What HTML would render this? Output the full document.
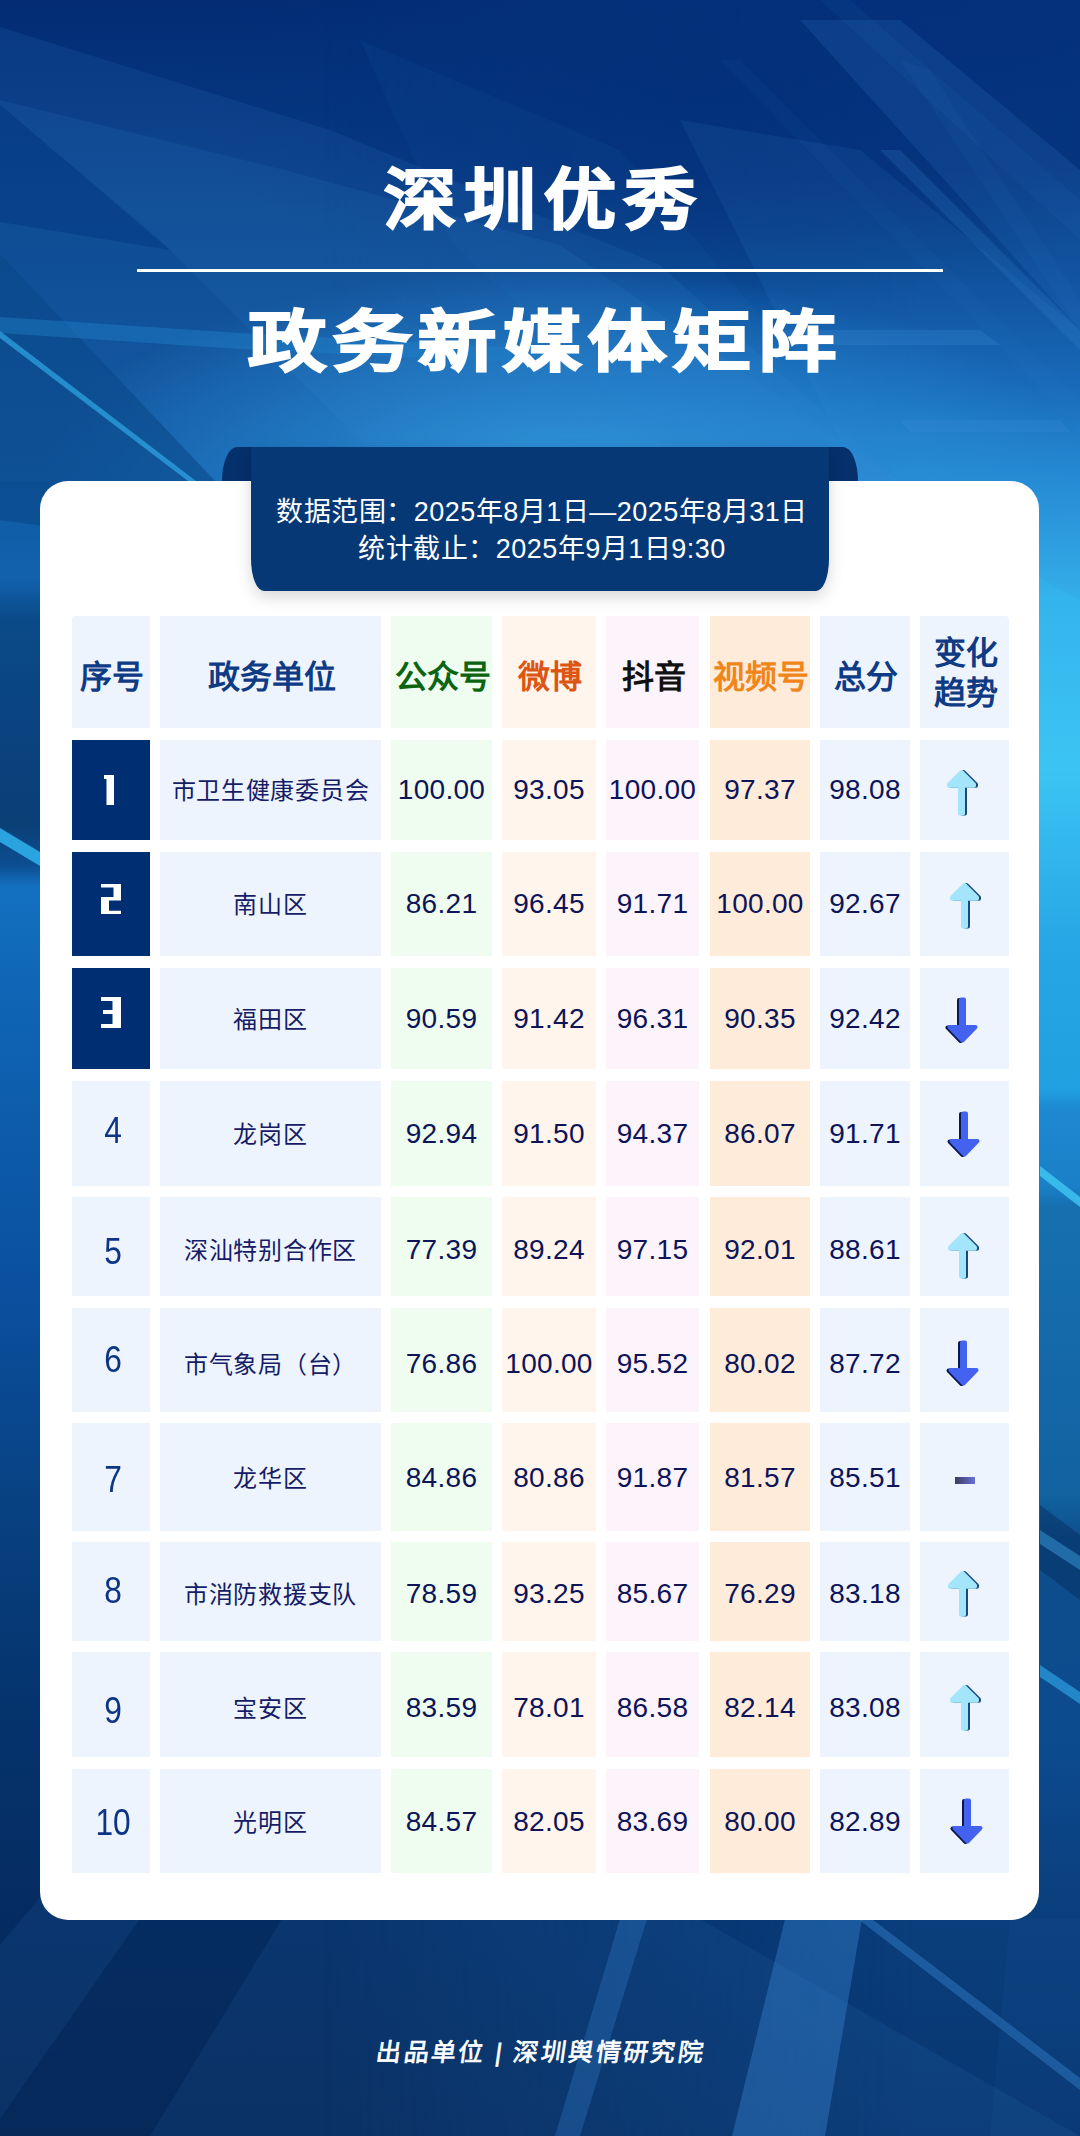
<!DOCTYPE html>
<html lang="zh-CN"><head><meta charset="utf-8">
<style>
*{margin:0;padding:0;box-sizing:border-box}
html,body{width:1080px;height:2136px;overflow:hidden;background:#0a3a80}
body{position:relative;font-family:"Liberation Sans",sans-serif}
.abs{position:absolute}
.c{position:absolute;display:flex;align-items:center;justify-content:center;text-align:center}
.hd{font-family:"Liberation Serif",serif;font-weight:700;font-size:32px;line-height:40px;color:#0f3a84;padding-top:9px;padding-left:2px}
.nm{font-size:24px;color:#161c66;letter-spacing:0.7px;padding-bottom:5px}
.num{font-size:28px;color:#0d1458;letter-spacing:0.3px;padding-bottom:2px}
.rk{font-size:36px;color:#0d3583;font-weight:300;padding-bottom:3px}
</style></head><body>
<svg class="abs" style="left:0;top:0" width="1080" height="2136" viewBox="0 0 1080 2136">
<defs>
<linearGradient id="bgL" x1="0" y1="0" x2="0" y2="2136" gradientUnits="userSpaceOnUse">
<stop offset="0" stop-color="#032c74"/>
<stop offset="0.05" stop-color="#05357e"/>
<stop offset="0.12" stop-color="#09458c"/>
<stop offset="0.19" stop-color="#0d4f98"/>
<stop offset="0.225" stop-color="#0f58a0"/>
<stop offset="0.27" stop-color="#1262ae"/>
<stop offset="0.29" stop-color="#0b4a88"/>
<stop offset="0.33" stop-color="#0a4482"/>
<stop offset="0.385" stop-color="#0a3f76"/>
<stop offset="0.405" stop-color="#0c4e92"/>
<stop offset="0.415" stop-color="#1370c0"/>
<stop offset="0.47" stop-color="#0f64b4"/>
<stop offset="0.60" stop-color="#0b50a0"/>
<stop offset="0.70" stop-color="#084283"/>
<stop offset="0.80" stop-color="#05336c"/>
<stop offset="0.90" stop-color="#052c62"/>
<stop offset="1" stop-color="#06295a"/>
</linearGradient>
<linearGradient id="bgR" x1="0" y1="0" x2="0" y2="2136" gradientUnits="userSpaceOnUse">
<stop offset="0" stop-color="#05307c"/>
<stop offset="0.08" stop-color="#06367f"/>
<stop offset="0.13" stop-color="#0b4a95"/>
<stop offset="0.18" stop-color="#1466b5"/>
<stop offset="0.22" stop-color="#2288d2"/>
<stop offset="0.28" stop-color="#34b4ec"/>
<stop offset="0.36" stop-color="#3cc4f4"/>
<stop offset="0.445" stop-color="#26a6e4"/>
<stop offset="0.51" stop-color="#20a0e0"/>
<stop offset="0.52" stop-color="#1e88d0"/>
<stop offset="0.555" stop-color="#1a80c8"/>
<stop offset="0.565" stop-color="#1670b0"/>
<stop offset="0.64" stop-color="#1468a8"/>
<stop offset="0.70" stop-color="#1262a0"/>
<stop offset="0.72" stop-color="#0e4e8c"/>
<stop offset="0.82" stop-color="#0c4a8e"/>
<stop offset="0.90" stop-color="#0a3e7c"/>
<stop offset="1" stop-color="#083670"/>
</linearGradient>
<linearGradient id="mx" x1="0" y1="0" x2="1080" y2="0" gradientUnits="userSpaceOnUse">
<stop offset="0.3" stop-color="#fff" stop-opacity="0"/>
<stop offset="0.85" stop-color="#fff" stop-opacity="1"/>
</linearGradient>
<mask id="mR"><rect width="1080" height="2136" fill="url(#mx)"/></mask>
<radialGradient id="gC" cx="0" cy="0" r="1" gradientUnits="userSpaceOnUse" gradientTransform="translate(560 470) scale(520 200)">
<stop offset="0" stop-color="#2c98dc" stop-opacity="0.95"/>
<stop offset="0.6" stop-color="#2a90d8" stop-opacity="0.45"/>
<stop offset="1" stop-color="#2a90d8" stop-opacity="0"/>
</radialGradient>
<radialGradient id="gT" cx="0" cy="0" r="1" gradientUnits="userSpaceOnUse" gradientTransform="translate(700 80) scale(520 230)">
<stop offset="0" stop-color="#04307a" stop-opacity="0.9"/>
<stop offset="1" stop-color="#04307a" stop-opacity="0"/>
</radialGradient>
</defs>
<rect width="1080" height="2136" fill="url(#bgL)"/>
<rect width="1080" height="2136" fill="url(#bgR)" mask="url(#mR)"/>
<rect width="1080" height="700" fill="url(#gT)"/>
<rect width="1080" height="700" fill="url(#gC)"/>
<g fill="#3a8ad8">
<polygon points="0,27 330,130 660,265 900,481 0,481" opacity="0.12"/>
<polygon points="0,100 285,170 560,245 900,481 400,481 160,240 0,105" opacity="0.12"/>
<polygon points="0,105 160,240 400,481 0,481" opacity="0.04"/>
<polygon points="360,40 620,150 900,480 700,480 450,240" opacity="0.06"/>
</g>
<g fill="#4aa0e8">
<polygon points="820,0 850,0 1080,200 1080,240" opacity="0.06"/>
<polygon points="900,60 930,70 1080,300 1080,330" opacity="0.05"/>
<polygon points="720,60 740,60 1080,400 1080,430" opacity="0.04"/>
</g>
<g fill="#3a8ad8">
<polygon points="800,20 900,20 1080,170 1080,330" opacity="0.16"/>
<polygon points="680,120 860,150 1080,330 1080,600 860,481" opacity="0.12"/>
<polygon points="880,150 900,150 1080,330 1080,350" opacity="0.2"/>
<polygon points="780,330 980,330 1000,345 800,345" opacity="0.25"/>
<polygon points="900,420 1060,420 1070,432 910,432" opacity="0.25"/>
</g>
<polygon points="0,105 170,250 0,222" fill="#053a85" opacity="0.55"/>
<polygon points="0,254 290,560 0,520" fill="#0a4888" opacity="0.6"/>
<polygon points="0,317 240,333 560,350 560,364 240,349 0,333" fill="#2080c8" opacity="0.45"/>
<polygon points="0,331 196,481 188,481 0,338" fill="#30a8e6" opacity="0.7"/>
<polygon points="0,828 40,852 40,866 0,842" fill="#30b4ee" opacity="0.85"/>
<polygon points="1040,1665 1080,1692 1080,1704 1040,1677" fill="#2a9ade" opacity="0.75"/>
<polygon points="1040,1166 1080,1197 1080,1207 1040,1176" fill="#40c8f4" opacity="0.8"/>
<polygon points="1040,1505 1080,1535 1080,1600 1040,1570" fill="#052a5a" opacity="0.45"/>
<polygon points="1040,1530 1080,1556 1080,1570 1040,1544" fill="#3a9ad8" opacity="0.5"/>
<g fill="#3a8ad8">
<polygon points="282,1919 700,1919 1080,2136 150,2136" opacity="0.10"/>
<polygon points="0,1945 139,1780 237,1780 -12,2136 -20,2136" opacity="0.10"/>
<polygon points="620,1919 647,1919 580,2136 555,2136" opacity="0.28"/>
<polygon points="785,1919 862,1919 825,2136 732,2136" opacity="0.38"/>
<polygon points="858,1919 872,1919 1080,2078 1080,2090" opacity="0.4"/>
<polygon points="1010,1919 1080,1919 1080,2136 990,2136" opacity="0.06"/>
</g>
</svg>
<div class="abs" style="left:0;top:155px;width:1080px;text-align:center;color:#fff;font-weight:700;font-size:72px;line-height:90px;letter-spacing:8px;padding-left:8px;-webkit-text-stroke:2px #fff;transform:scaleY(0.92)">深圳优秀</div>
<div class="abs" style="left:137px;top:269px;width:806px;height:3px;background:#fff"></div>
<div class="abs" style="left:0;top:297px;width:1080px;text-align:center;color:#fff;font-weight:700;font-size:78px;line-height:90px;letter-spacing:7px;padding-left:10px;-webkit-text-stroke:2.5px #fff;transform:scaleY(0.85)">政务新媒体矩阵</div>
<div class="abs" style="left:40px;top:481px;width:999px;height:1439px;background:#fff;border-radius:28px"></div>
<div class="abs" style="left:222px;top:447px;width:636px;height:34px;background:#05306c;border-radius:15px 15px 0 0/34px 34px 0 0"></div>
<div class="abs" style="left:251px;top:447px;width:578px;height:144px;background:#063876;border-radius:0 0 13px 13px/0 0 32px 32px;box-shadow:0 6px 16px rgba(0,0,0,0.16)"></div>
<div class="abs" style="left:253px;top:494px;width:578px;text-align:center;color:#fff;font-size:27px;line-height:37px;letter-spacing:0.5px">数据范围：2025年8月1日—2025年8月31日<br>统计截止：2025年9月1日9:30</div>
<div class="c hd" style="left:72px;top:616px;width:78px;height:112px;background:#edf4fe;color:#0f3a84;border-top-left-radius:4px;">序号</div>
<div class="c hd" style="left:160px;top:616px;width:221px;height:112px;background:#edf4fe;color:#0f3a84;">政务单位</div>
<div class="c hd" style="left:391px;top:616px;width:101px;height:112px;background:#effdf0;color:#0c6410;">公众号</div>
<div class="c hd" style="left:502px;top:616px;width:94px;height:112px;background:#fff5ec;color:#dc5512;">微博</div>
<div class="c hd" style="left:606px;top:616px;width:93px;height:112px;background:#fdf3fb;color:#111111;">抖音</div>
<div class="c hd" style="left:710px;top:616px;width:100px;height:112px;background:#ffebda;color:#f0861a;">视频号</div>
<div class="c hd" style="left:820px;top:616px;width:90px;height:112px;background:#edf4fe;color:#0f3a84;">总分</div>
<div class="c hd" style="left:920px;top:616px;width:89px;height:112px;background:#edf4fe;color:#0f3a84;border-top-right-radius:4px;padding-top:2px;">变化<br>趋势</div>
<div class="abs" style="left:72px;top:740px;width:78px;height:100px;background:#002e73"></div>
<div class="abs" style="left:160px;top:740px;width:221px;height:100px;background:#edf4fe"></div>
<div class="abs" style="left:391px;top:740px;width:101px;height:100px;background:#effdf0"></div>
<div class="abs" style="left:502px;top:740px;width:94px;height:100px;background:#fff5ec"></div>
<div class="abs" style="left:606px;top:740px;width:93px;height:100px;background:#fdf3fb"></div>
<div class="abs" style="left:710px;top:740px;width:100px;height:100px;background:#ffebda"></div>
<div class="abs" style="left:820px;top:740px;width:90px;height:100px;background:#edf4fe"></div>
<div class="abs" style="left:920px;top:740px;width:89px;height:100px;background:#edf4fe"></div>
<div class="c nm" style="left:160px;top:741px;width:221px;height:100px">市卫生健康委员会</div>
<div class="c num" style="left:391px;top:741px;width:101px;height:100px">100.00</div>
<div class="c num" style="left:502px;top:741px;width:94px;height:100px">93.05</div>
<div class="c num" style="left:606px;top:741px;width:93px;height:100px">100.00</div>
<div class="c num" style="left:710px;top:741px;width:100px;height:100px">97.37</div>
<div class="c num" style="left:820px;top:741px;width:90px;height:100px">98.08</div>
<svg class="abs" style="left:943px;top:766px" width="42" height="54" viewBox="-4 -4 42 54"><path transform="translate(2,0)" d="M14.5 2 L27 14.5 L27 15.8 L16 15.8 L16 43.5 L13 43.5 L13 15.8 L2 15.8 L2 14.5 Z" fill="#1a4a7c" stroke="#1a4a7c" stroke-width="4" stroke-linejoin="round"/><path d="M14.5 2 L27 14.5 L27 15.8 L16 15.8 L16 43.5 L13 43.5 L13 15.8 L2 15.8 L2 14.5 Z" fill="#a3e6fc" stroke="#a3e6fc" stroke-width="4" stroke-linejoin="round"/></svg>
<div class="abs" style="left:72px;top:852px;width:78px;height:104px;background:#002e73"></div>
<div class="abs" style="left:160px;top:852px;width:221px;height:104px;background:#edf4fe"></div>
<div class="abs" style="left:391px;top:852px;width:101px;height:104px;background:#effdf0"></div>
<div class="abs" style="left:502px;top:852px;width:94px;height:104px;background:#fff5ec"></div>
<div class="abs" style="left:606px;top:852px;width:93px;height:104px;background:#fdf3fb"></div>
<div class="abs" style="left:710px;top:852px;width:100px;height:104px;background:#ffebda"></div>
<div class="abs" style="left:820px;top:852px;width:90px;height:104px;background:#edf4fe"></div>
<div class="abs" style="left:920px;top:852px;width:89px;height:104px;background:#edf4fe"></div>
<div class="c nm" style="left:160px;top:853px;width:221px;height:104px">南山区</div>
<div class="c num" style="left:391px;top:853px;width:101px;height:104px">86.21</div>
<div class="c num" style="left:502px;top:853px;width:94px;height:104px">96.45</div>
<div class="c num" style="left:606px;top:853px;width:93px;height:104px">91.71</div>
<div class="c num" style="left:710px;top:853px;width:100px;height:104px">100.00</div>
<div class="c num" style="left:820px;top:853px;width:90px;height:104px">92.67</div>
<svg class="abs" style="left:946px;top:879px" width="42" height="54" viewBox="-4 -4 42 54"><path transform="translate(2,0)" d="M14.5 2 L27 14.5 L27 15.8 L16 15.8 L16 43.5 L13 43.5 L13 15.8 L2 15.8 L2 14.5 Z" fill="#1a4a7c" stroke="#1a4a7c" stroke-width="4" stroke-linejoin="round"/><path d="M14.5 2 L27 14.5 L27 15.8 L16 15.8 L16 43.5 L13 43.5 L13 15.8 L2 15.8 L2 14.5 Z" fill="#a3e6fc" stroke="#a3e6fc" stroke-width="4" stroke-linejoin="round"/></svg>
<div class="abs" style="left:72px;top:968px;width:78px;height:101px;background:#002e73"></div>
<div class="abs" style="left:160px;top:968px;width:221px;height:101px;background:#edf4fe"></div>
<div class="abs" style="left:391px;top:968px;width:101px;height:101px;background:#effdf0"></div>
<div class="abs" style="left:502px;top:968px;width:94px;height:101px;background:#fff5ec"></div>
<div class="abs" style="left:606px;top:968px;width:93px;height:101px;background:#fdf3fb"></div>
<div class="abs" style="left:710px;top:968px;width:100px;height:101px;background:#ffebda"></div>
<div class="abs" style="left:820px;top:968px;width:90px;height:101px;background:#edf4fe"></div>
<div class="abs" style="left:920px;top:968px;width:89px;height:101px;background:#edf4fe"></div>
<div class="c nm" style="left:160px;top:969px;width:221px;height:101px">福田区</div>
<div class="c num" style="left:391px;top:969px;width:101px;height:101px">90.59</div>
<div class="c num" style="left:502px;top:969px;width:94px;height:101px">91.42</div>
<div class="c num" style="left:606px;top:969px;width:93px;height:101px">96.31</div>
<div class="c num" style="left:710px;top:969px;width:100px;height:101px">90.35</div>
<div class="c num" style="left:820px;top:969px;width:90px;height:101px">92.42</div>
<svg class="abs" style="left:942px;top:993px" width="42" height="54" viewBox="-4 -4 42 54"><path transform="translate(-2,0.5)" d="M15 2.5 L18 2.5 L18 30 L29.5 30 L16.5 43.5 L3.5 30 L15 30 Z" fill="#0a1850" stroke="#0a1850" stroke-width="4" stroke-linejoin="round"/><path d="M15 2.5 L18 2.5 L18 30 L29.5 30 L16.5 43.5 L3.5 30 L15 30 Z" fill="#4362f0" stroke="#4362f0" stroke-width="4" stroke-linejoin="round"/></svg>
<div class="abs" style="left:72px;top:1081px;width:78px;height:105px;background:#edf4fe"></div>
<div class="abs" style="left:160px;top:1081px;width:221px;height:105px;background:#edf4fe"></div>
<div class="abs" style="left:391px;top:1081px;width:101px;height:105px;background:#effdf0"></div>
<div class="abs" style="left:502px;top:1081px;width:94px;height:105px;background:#fff5ec"></div>
<div class="abs" style="left:606px;top:1081px;width:93px;height:105px;background:#fdf3fb"></div>
<div class="abs" style="left:710px;top:1081px;width:100px;height:105px;background:#ffebda"></div>
<div class="abs" style="left:820px;top:1081px;width:90px;height:105px;background:#edf4fe"></div>
<div class="abs" style="left:920px;top:1081px;width:89px;height:105px;background:#edf4fe"></div>
<div class="c rk" style="left:74px;top:1080px;width:78px;height:105px"><span style="display:inline-block;transform:scaleX(0.88)">4</span></div>
<div class="c nm" style="left:160px;top:1082px;width:221px;height:105px">龙岗区</div>
<div class="c num" style="left:391px;top:1082px;width:101px;height:105px">92.94</div>
<div class="c num" style="left:502px;top:1082px;width:94px;height:105px">91.50</div>
<div class="c num" style="left:606px;top:1082px;width:93px;height:105px">94.37</div>
<div class="c num" style="left:710px;top:1082px;width:100px;height:105px">86.07</div>
<div class="c num" style="left:820px;top:1082px;width:90px;height:105px">91.71</div>
<svg class="abs" style="left:944px;top:1107px" width="42" height="54" viewBox="-4 -4 42 54"><path transform="translate(-2,0.5)" d="M15 2.5 L18 2.5 L18 30 L29.5 30 L16.5 43.5 L3.5 30 L15 30 Z" fill="#0a1850" stroke="#0a1850" stroke-width="4" stroke-linejoin="round"/><path d="M15 2.5 L18 2.5 L18 30 L29.5 30 L16.5 43.5 L3.5 30 L15 30 Z" fill="#4362f0" stroke="#4362f0" stroke-width="4" stroke-linejoin="round"/></svg>
<div class="abs" style="left:72px;top:1197px;width:78px;height:99px;background:#edf4fe"></div>
<div class="abs" style="left:160px;top:1197px;width:221px;height:99px;background:#edf4fe"></div>
<div class="abs" style="left:391px;top:1197px;width:101px;height:99px;background:#effdf0"></div>
<div class="abs" style="left:502px;top:1197px;width:94px;height:99px;background:#fff5ec"></div>
<div class="abs" style="left:606px;top:1197px;width:93px;height:99px;background:#fdf3fb"></div>
<div class="abs" style="left:710px;top:1197px;width:100px;height:99px;background:#ffebda"></div>
<div class="abs" style="left:820px;top:1197px;width:90px;height:99px;background:#edf4fe"></div>
<div class="abs" style="left:920px;top:1197px;width:89px;height:99px;background:#edf4fe"></div>
<div class="c rk" style="left:74px;top:1204px;width:78px;height:99px"><span style="display:inline-block;transform:scaleX(0.88)">5</span></div>
<div class="c nm" style="left:160px;top:1201px;width:221px;height:99px">深汕特别合作区</div>
<div class="c num" style="left:391px;top:1201px;width:101px;height:99px">77.39</div>
<div class="c num" style="left:502px;top:1201px;width:94px;height:99px">89.24</div>
<div class="c num" style="left:606px;top:1201px;width:93px;height:99px">97.15</div>
<div class="c num" style="left:710px;top:1201px;width:100px;height:99px">92.01</div>
<div class="c num" style="left:820px;top:1201px;width:90px;height:99px">88.61</div>
<svg class="abs" style="left:944px;top:1229px" width="42" height="54" viewBox="-4 -4 42 54"><path transform="translate(2,0)" d="M14.5 2 L27 14.5 L27 15.8 L16 15.8 L16 43.5 L13 43.5 L13 15.8 L2 15.8 L2 14.5 Z" fill="#1a4a7c" stroke="#1a4a7c" stroke-width="4" stroke-linejoin="round"/><path d="M14.5 2 L27 14.5 L27 15.8 L16 15.8 L16 43.5 L13 43.5 L13 15.8 L2 15.8 L2 14.5 Z" fill="#a3e6fc" stroke="#a3e6fc" stroke-width="4" stroke-linejoin="round"/></svg>
<div class="abs" style="left:72px;top:1308px;width:78px;height:104px;background:#edf4fe"></div>
<div class="abs" style="left:160px;top:1308px;width:221px;height:104px;background:#edf4fe"></div>
<div class="abs" style="left:391px;top:1308px;width:101px;height:104px;background:#effdf0"></div>
<div class="abs" style="left:502px;top:1308px;width:94px;height:104px;background:#fff5ec"></div>
<div class="abs" style="left:606px;top:1308px;width:93px;height:104px;background:#fdf3fb"></div>
<div class="abs" style="left:710px;top:1308px;width:100px;height:104px;background:#ffebda"></div>
<div class="abs" style="left:820px;top:1308px;width:90px;height:104px;background:#edf4fe"></div>
<div class="abs" style="left:920px;top:1308px;width:89px;height:104px;background:#edf4fe"></div>
<div class="c rk" style="left:74px;top:1309px;width:78px;height:104px"><span style="display:inline-block;transform:scaleX(0.88)">6</span></div>
<div class="c nm" style="left:160px;top:1313px;width:221px;height:104px">市气象局（台）</div>
<div class="c num" style="left:391px;top:1313px;width:101px;height:104px">76.86</div>
<div class="c num" style="left:502px;top:1313px;width:94px;height:104px">100.00</div>
<div class="c num" style="left:606px;top:1313px;width:93px;height:104px">95.52</div>
<div class="c num" style="left:710px;top:1313px;width:100px;height:104px">80.02</div>
<div class="c num" style="left:820px;top:1313px;width:90px;height:104px">87.72</div>
<svg class="abs" style="left:943px;top:1336px" width="42" height="54" viewBox="-4 -4 42 54"><path transform="translate(-2,0.5)" d="M15 2.5 L18 2.5 L18 30 L29.5 30 L16.5 43.5 L3.5 30 L15 30 Z" fill="#0a1850" stroke="#0a1850" stroke-width="4" stroke-linejoin="round"/><path d="M15 2.5 L18 2.5 L18 30 L29.5 30 L16.5 43.5 L3.5 30 L15 30 Z" fill="#4362f0" stroke="#4362f0" stroke-width="4" stroke-linejoin="round"/></svg>
<div class="abs" style="left:72px;top:1423px;width:78px;height:108px;background:#edf4fe"></div>
<div class="abs" style="left:160px;top:1423px;width:221px;height:108px;background:#edf4fe"></div>
<div class="abs" style="left:391px;top:1423px;width:101px;height:108px;background:#effdf0"></div>
<div class="abs" style="left:502px;top:1423px;width:94px;height:108px;background:#fff5ec"></div>
<div class="abs" style="left:606px;top:1423px;width:93px;height:108px;background:#fdf3fb"></div>
<div class="abs" style="left:710px;top:1423px;width:100px;height:108px;background:#ffebda"></div>
<div class="abs" style="left:820px;top:1423px;width:90px;height:108px;background:#edf4fe"></div>
<div class="abs" style="left:920px;top:1423px;width:89px;height:108px;background:#edf4fe"></div>
<div class="c rk" style="left:74px;top:1427px;width:78px;height:108px"><span style="display:inline-block;transform:scaleX(0.88)">7</span></div>
<div class="c nm" style="left:160px;top:1425px;width:221px;height:108px">龙华区</div>
<div class="c num" style="left:391px;top:1425px;width:101px;height:108px">84.86</div>
<div class="c num" style="left:502px;top:1425px;width:94px;height:108px">80.86</div>
<div class="c num" style="left:606px;top:1425px;width:93px;height:108px">91.87</div>
<div class="c num" style="left:710px;top:1425px;width:100px;height:108px">81.57</div>
<div class="c num" style="left:820px;top:1425px;width:90px;height:108px">85.51</div>
<div class="abs" style="left:955px;top:1477px;width:20px;height:7px;background:linear-gradient(90deg,#3a3d5e,#6b6fd6)"></div>
<div class="abs" style="left:72px;top:1542px;width:78px;height:99px;background:#edf4fe"></div>
<div class="abs" style="left:160px;top:1542px;width:221px;height:99px;background:#edf4fe"></div>
<div class="abs" style="left:391px;top:1542px;width:101px;height:99px;background:#effdf0"></div>
<div class="abs" style="left:502px;top:1542px;width:94px;height:99px;background:#fff5ec"></div>
<div class="abs" style="left:606px;top:1542px;width:93px;height:99px;background:#fdf3fb"></div>
<div class="abs" style="left:710px;top:1542px;width:100px;height:99px;background:#ffebda"></div>
<div class="abs" style="left:820px;top:1542px;width:90px;height:99px;background:#edf4fe"></div>
<div class="abs" style="left:920px;top:1542px;width:89px;height:99px;background:#edf4fe"></div>
<div class="c rk" style="left:74px;top:1543px;width:78px;height:99px"><span style="display:inline-block;transform:scaleX(0.88)">8</span></div>
<div class="c nm" style="left:160px;top:1545px;width:221px;height:99px">市消防救援支队</div>
<div class="c num" style="left:391px;top:1545px;width:101px;height:99px">78.59</div>
<div class="c num" style="left:502px;top:1545px;width:94px;height:99px">93.25</div>
<div class="c num" style="left:606px;top:1545px;width:93px;height:99px">85.67</div>
<div class="c num" style="left:710px;top:1545px;width:100px;height:99px">76.29</div>
<div class="c num" style="left:820px;top:1545px;width:90px;height:99px">83.18</div>
<svg class="abs" style="left:944px;top:1567px" width="42" height="54" viewBox="-4 -4 42 54"><path transform="translate(2,0)" d="M14.5 2 L27 14.5 L27 15.8 L16 15.8 L16 43.5 L13 43.5 L13 15.8 L2 15.8 L2 14.5 Z" fill="#1a4a7c" stroke="#1a4a7c" stroke-width="4" stroke-linejoin="round"/><path d="M14.5 2 L27 14.5 L27 15.8 L16 15.8 L16 43.5 L13 43.5 L13 15.8 L2 15.8 L2 14.5 Z" fill="#a3e6fc" stroke="#a3e6fc" stroke-width="4" stroke-linejoin="round"/></svg>
<div class="abs" style="left:72px;top:1652px;width:78px;height:105px;background:#edf4fe"></div>
<div class="abs" style="left:160px;top:1652px;width:221px;height:105px;background:#edf4fe"></div>
<div class="abs" style="left:391px;top:1652px;width:101px;height:105px;background:#effdf0"></div>
<div class="abs" style="left:502px;top:1652px;width:94px;height:105px;background:#fff5ec"></div>
<div class="abs" style="left:606px;top:1652px;width:93px;height:105px;background:#fdf3fb"></div>
<div class="abs" style="left:710px;top:1652px;width:100px;height:105px;background:#ffebda"></div>
<div class="abs" style="left:820px;top:1652px;width:90px;height:105px;background:#edf4fe"></div>
<div class="abs" style="left:920px;top:1652px;width:89px;height:105px;background:#edf4fe"></div>
<div class="c rk" style="left:74px;top:1660px;width:78px;height:105px"><span style="display:inline-block;transform:scaleX(0.88)">9</span></div>
<div class="c nm" style="left:160px;top:1656px;width:221px;height:105px">宝安区</div>
<div class="c num" style="left:391px;top:1656px;width:101px;height:105px">83.59</div>
<div class="c num" style="left:502px;top:1656px;width:94px;height:105px">78.01</div>
<div class="c num" style="left:606px;top:1656px;width:93px;height:105px">86.58</div>
<div class="c num" style="left:710px;top:1656px;width:100px;height:105px">82.14</div>
<div class="c num" style="left:820px;top:1656px;width:90px;height:105px">83.08</div>
<svg class="abs" style="left:946px;top:1681px" width="42" height="54" viewBox="-4 -4 42 54"><path transform="translate(2,0)" d="M14.5 2 L27 14.5 L27 15.8 L16 15.8 L16 43.5 L13 43.5 L13 15.8 L2 15.8 L2 14.5 Z" fill="#1a4a7c" stroke="#1a4a7c" stroke-width="4" stroke-linejoin="round"/><path d="M14.5 2 L27 14.5 L27 15.8 L16 15.8 L16 43.5 L13 43.5 L13 15.8 L2 15.8 L2 14.5 Z" fill="#a3e6fc" stroke="#a3e6fc" stroke-width="4" stroke-linejoin="round"/></svg>
<div class="abs" style="left:72px;top:1769px;width:78px;height:104px;background:#edf4fe"></div>
<div class="abs" style="left:160px;top:1769px;width:221px;height:104px;background:#edf4fe"></div>
<div class="abs" style="left:391px;top:1769px;width:101px;height:104px;background:#effdf0"></div>
<div class="abs" style="left:502px;top:1769px;width:94px;height:104px;background:#fff5ec"></div>
<div class="abs" style="left:606px;top:1769px;width:93px;height:104px;background:#fdf3fb"></div>
<div class="abs" style="left:710px;top:1769px;width:100px;height:104px;background:#ffebda"></div>
<div class="abs" style="left:820px;top:1769px;width:90px;height:104px;background:#edf4fe"></div>
<div class="abs" style="left:920px;top:1769px;width:89px;height:104px;background:#edf4fe"></div>
<div class="c rk" style="left:74px;top:1772px;width:78px;height:104px"><span style="display:inline-block;transform:scaleX(0.88)">10</span></div>
<div class="c nm" style="left:160px;top:1771px;width:221px;height:104px">光明区</div>
<div class="c num" style="left:391px;top:1771px;width:101px;height:104px">84.57</div>
<div class="c num" style="left:502px;top:1771px;width:94px;height:104px">82.05</div>
<div class="c num" style="left:606px;top:1771px;width:93px;height:104px">83.69</div>
<div class="c num" style="left:710px;top:1771px;width:100px;height:104px">80.00</div>
<div class="c num" style="left:820px;top:1771px;width:90px;height:104px">82.89</div>
<svg class="abs" style="left:947px;top:1794px" width="42" height="54" viewBox="-4 -4 42 54"><path transform="translate(-2,0.5)" d="M15 2.5 L18 2.5 L18 30 L29.5 30 L16.5 43.5 L3.5 30 L15 30 Z" fill="#0a1850" stroke="#0a1850" stroke-width="4" stroke-linejoin="round"/><path d="M15 2.5 L18 2.5 L18 30 L29.5 30 L16.5 43.5 L3.5 30 L15 30 Z" fill="#4362f0" stroke="#4362f0" stroke-width="4" stroke-linejoin="round"/></svg>
<svg class="abs" style="left:0;top:0" width="1080" height="1100"><path d="M104 775 H114 V805 H106.5 V779 H104 Z" fill="#fff"/><path d="M101 884 H121 V900.5 H109 V910.7 H121 V914 H101 V897 H113.5 V887.5 H101 Z" fill="#fff"/><path d="M101 997 H121 V1028 H101 V1024 H112.5 V1014 H103 V1010 H112.5 V1001 H101 Z" fill="#fff"/></svg>
<div class="abs" style="left:0;top:2034px;width:1080px;text-align:center;color:#fff;font-weight:400;font-size:25px;line-height:36px;letter-spacing:2.4px;padding-left:2px;transform:skewX(-8deg);-webkit-text-stroke:0.7px #fff">出品单位 | 深圳舆情研究院</div>
</body></html>
